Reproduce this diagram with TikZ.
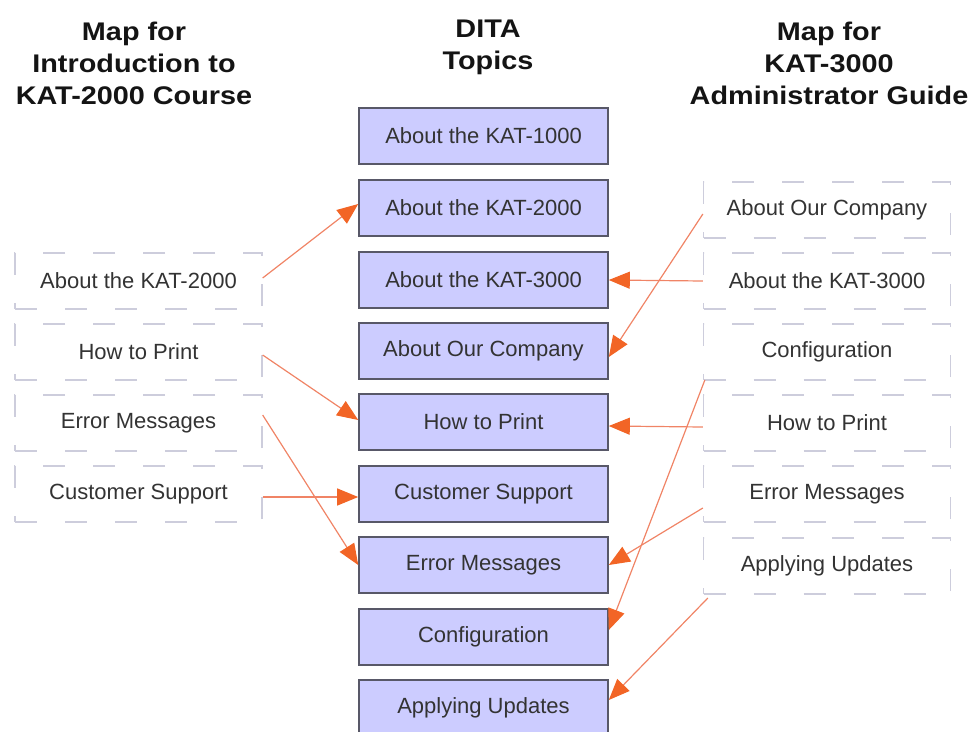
\documentclass[tikz,border=0pt]{standalone}
\usepackage{fontspec}
\setmainfont{Liberation Sans}
\newfontfamily\headfont{Liberation Sans}[FakeStretch=1.13]
\usetikzlibrary{arrows.meta}
\definecolor{topicfill}{HTML}{CCCCFF}
\definecolor{topicline}{HTML}{585868}
\definecolor{mapline}{HTML}{CDCDDC}
\definecolor{linkline}{HTML}{F08466}
\definecolor{linkhead}{HTML}{F26526}
\definecolor{bodytext}{HTML}{333333}
\tikzset{
  heading/.style={inner sep=0pt, align=center, text=black!92,
    font=\headfont\bfseries\fontsize{25.5}{32}\selectfont},
  topicbox/.style={draw=topicline, line width=1.6pt, fill=topicfill,
    minimum width=249pt, minimum height=56pt, inner sep=0pt, text=bodytext,
    font=\fontsize{22}{26}\selectfont},
  mapentry/.style={draw=mapline, line width=1.3pt, dash pattern=on 22pt off 28pt,
    minimum width=247pt, minimum height=56pt, inner sep=0pt, text=bodytext,
    font=\fontsize{22}{26}\selectfont},
  link/.style={draw=linkline, line width=1.2pt,
    -{Triangle[length=21pt,width=17pt,color=linkhead]}}
}
\begin{document}
\begin{tikzpicture}[x=1pt,y=-1pt]
\useasboundingbox (0,0) rectangle (973,731);

% column headings
\node[heading, anchor=north] (hleft) at (134,22) {Map for\\Introduction to\\KAT-2000 Course};
\node[heading, anchor=north] (hmid) at (488,20) {DITA\\Topics};
\node[heading, anchor=north] (hright) at (829,22) {Map for\\KAT-3000\\Administrator Guide};

% DITA topics
\node[topicbox] (t1) at (483.5,136) {About the KAT-1000};
\node[topicbox] (t2) at (483.5,208) {About the KAT-2000};
\node[topicbox] (t3) at (483.5,280) {About the KAT-3000};
\node[topicbox] (t4) at (483.5,351) {About Our Company};
\node[topicbox] (t5) at (483.5,422) {How to Print};
\node[topicbox] (t6) at (483.5,494) {Customer Support};
\node[topicbox] (t7) at (483.5,565) {Error Messages};
\node[topicbox] (t8) at (483.5,637) {Configuration};
\node[topicbox] (t9) at (483.5,708) {Applying Updates};

% course map entries
\node[mapentry] (l1) at (138.5,281) {About the KAT-2000};
\node[mapentry] (l2) at (138.5,352) {How to Print};
\node[mapentry] (l3) at (138.5,423) {Error Messages};
\node[mapentry] (l4) at (138.5,494) {Customer Support};

% administrator guide map entries
\node[mapentry] (r1) at (827,210) {About Our Company};
\node[mapentry] (r2) at (827,281) {About the KAT-3000};
\node[mapentry] (r3) at (827,352) {Configuration};
\node[mapentry] (r4) at (827,423) {How to Print};
\node[mapentry] (r5) at (827,494) {Error Messages};
\node[mapentry] (r6) at (827,566) {Applying Updates};

% references from the course map
\draw[link] ([yshift=3pt]l1.east) -- ([yshift=4pt]t2.west);
\draw[link] ([yshift=-3pt]l2.east) -- ([yshift=2pt]t5.west);
\draw[link] ([yshift=8pt]l3.east) -- ([yshift=0pt]t7.west);
\draw[link] ([yshift=-3pt]l4.east) -- ([yshift=-3pt]t6.west);

% references from the administrator guide map
\draw[link] ([yshift=-4pt]r1.west) -- ([yshift=-6pt]t4.east);
\draw[link] ([yshift=0pt]r2.west) -- ([yshift=0pt]t3.east);
\draw[link] ([xshift=2pt,yshift=-28pt]r3.west) -- ([yshift=7pt]t8.east);
\draw[link] ([yshift=-4pt]r4.west) -- ([yshift=-4pt]t5.east);
\draw[link] ([yshift=-14pt]r5.west) -- ([yshift=0pt]t7.east);
\draw[link] ([xshift=5pt,yshift=-32pt]r6.west) -- ([yshift=8pt]t9.east);
\end{tikzpicture}
\end{document}
